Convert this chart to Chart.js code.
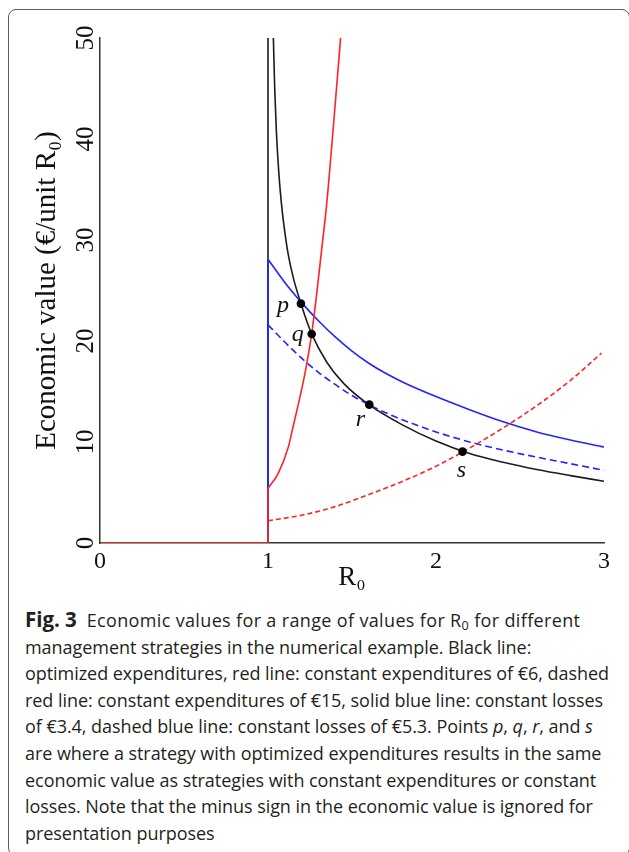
<!DOCTYPE html>
<html>
<head>
<meta charset="utf-8">
<script src="https://cdn.jsdelivr.net/npm/chart.js@4.4.1/dist/chart.umd.min.js"></script>
<style>
  html, body { margin:0; padding:0; background:#fff; }
  body { width:629px; height:852px; overflow:hidden; position:relative; }
  #frame { position:absolute; left:8px; top:9px; width:620px; height:845px; border:1.5px solid #5c5c5c; border-radius:8px; box-sizing:content-box; }
  #cv { position:absolute; left:0; top:0; }
  #cap { position:absolute; left:25px; top:606px; font-family:'Open Sans', 'Noto Sans', sans-serif; font-size:18px; line-height:26.6px; color:#231f20; white-space:nowrap; letter-spacing:-0.05px; }
  #cap b { font-weight:700; font-size:20.5px; margin-right:10px; }
  #cap .l1 { letter-spacing:0.35px; }
  #cap sub { font-size:0.7em; vertical-align:-0.25em; line-height:0; }
</style>
</head>
<body>
<div id="frame"></div>
<canvas id="cv" width="629" height="600"></canvas>
<div id="cap">
<b>Fig. 3</b><span class="l1">Economic values for a range of values for R<sub>0</sub> for different</span><br>
management strategies in the numerical example. Black line:<br>
optimized expenditures, red line: constant expenditures of €6, dashed<br>
red line: constant expenditures of €15, solid blue line: constant losses<br>
of €3.4, dashed blue line: constant losses of €5.3. Points <i>p</i>, <i>q</i>, <i>r</i>, and <i>s</i><br>
are where a strategy with optimized expenditures results in the same<br>
economic value as strategies with constant expenditures or constant<br>
losses. Note that the minus sign in the economic value is ignored for<br>
presentation purposes
</div>
<script>
// ---- tick labels ----
const xTickValues = [0, 1, 2, 3];
const yTickValues = [0, 10, 20, 30, 40, 50];

// ---- optimized expenditures (black) ----
const optVertR0 = [1, 1];
const optVertVal = [0, 50];
const optR0  = [1.032, 1.04, 1.05, 1.065, 1.08, 1.10, 1.12, 1.15, 1.20, 1.26, 1.35, 1.45, 1.60, 1.80, 2.0, 2.2, 2.4, 2.6, 2.8, 3.0];
const optVal = [50, 45.0, 40.7, 36.5, 33.6, 30.8, 28.6, 26.3, 23.5, 20.7, 17.9, 15.8, 13.7, 11.7, 10.1, 8.86, 7.99, 7.27, 6.67, 6.12];

// ---- constant expenditures of 6 (red solid) ----
const red6BaseR0  = [0, 1, 1];
const red6BaseVal = [0, 0, 5.4];
const red6R0  = [1, 1.061, 1.121, 1.145, 1.22, 1.26, 1.29, 1.319, 1.349, 1.389, 1.432];
const red6Val = [5.4, 6.9, 9.5, 11.2, 16.8, 20.7, 24.7, 29.0, 33.5, 41.2, 50];

// ---- constant expenditures of 15 (red dashed) ----
const red15R0  = [1, 1.2, 1.4, 1.6, 1.8, 2.0, 2.2, 2.4, 2.6, 2.8, 2.985];
const red15Val = [2.2, 2.75, 3.6, 4.8, 6.1, 7.6, 9.4, 11.4, 13.6, 16.1, 18.8];

// ---- constant losses of 3.4 (blue solid) ----
const blue34VertR0  = [1, 1];
const blue34VertVal = [0, 28.1];
const blue34R0  = [1, 1.1, 1.2, 1.3, 1.4, 1.5, 1.6, 1.7, 1.8, 2.0, 2.2, 2.4, 2.6, 2.8, 3.0];
const blue34Val = [28.1, 25.8, 23.8, 22.0, 20.4, 19.0, 17.8, 16.8, 15.95, 14.5, 13.2, 12.0, 11.0, 10.2, 9.5];

// ---- constant losses of 5.3 (blue dashed) ----
const blue53R0  = [1, 1.1, 1.2, 1.3, 1.4, 1.5, 1.6, 1.7, 1.8, 2.0, 2.2, 2.4, 2.6, 2.8, 3.0];
const blue53Val = [21.6, 19.9, 18.3, 16.9, 15.7, 14.6, 13.7, 12.9, 12.2, 11.0, 10.0, 9.2, 8.5, 7.85, 7.2];

// ---- intersection points ----
const ptR0    = [1.196, 1.26, 1.603, 2.158];
const ptVal   = [23.7, 20.7, 13.7, 9.05];
const ptNames = ['p', 'q', 'r', 's'];

const toXY = (xs, ys) => xs.map((x, i) => ({ x: x, y: ys[i] }));

const RED = '#ff2323', BLUE = '#2323ff', BLACK = '#1c1c1c';
const LW = 1.6;

function curve(data, color, dash, order, mono) {
  return {
    data: data, showLine: true, borderColor: color, backgroundColor: color,
    borderWidth: LW, borderDash: dash || [], pointRadius: 0, pointHoverRadius: 0,
    cubicInterpolationMode: mono ? 'monotone' : 'default', tension: 0, order: order
  };
}

const labelOffsets = [[-18, 8], [-14, 7], [-9, 21], [-1, 25]];

const pointLabels = {
  id: 'pointLabels',
  afterDatasetsDraw(chart) {
    const meta = chart.getDatasetMeta(chart.data.datasets.length - 1);
    const ctx = chart.ctx;
    ctx.save();
    ctx.font = 'italic 24px "Liberation Serif", "Times New Roman", serif';
    ctx.fillStyle = '#111';
    ctx.textAlign = 'center';
    ctx.textBaseline = 'alphabetic';
    meta.data.forEach((el, i) => {
      ctx.fillText(ptNames[i], el.x + labelOffsets[i][0], el.y + labelOffsets[i][1]);
    });
    ctx.restore();
  }
};

const serif = '"Liberation Serif", "Times New Roman", serif';

new Chart(document.getElementById('cv').getContext('2d'), {
  type: 'scatter',
  data: {
    datasets: [
      curve(toXY(optVertR0, optVertVal), BLACK, null, 9, false),
      curve(toXY(optR0, optVal), BLACK, null, 8, true),
      curve(toXY(blue53R0, blue53Val), BLUE, [7, 4], 7, true),
      curve(toXY(blue34VertR0, blue34VertVal), BLUE, null, 6, false),
      curve(toXY(blue34R0, blue34Val), BLUE, null, 5, true),
      curve(toXY(red15R0, red15Val), RED, [5, 3], 4, true),
      curve(toXY(red6BaseR0, red6BaseVal), RED, null, 3, false),
      curve(toXY(red6R0, red6Val), RED, null, 2, true),
      {
        data: toXY(ptR0, ptVal), showLine: false, pointRadius: 4.3, pointHoverRadius: 4.3,
        pointBackgroundColor: '#000', pointBorderColor: '#000', pointBorderWidth: 0, order: 0
      }
    ]
  },
  options: {
    responsive: false, animation: false, devicePixelRatio: 1,
    layout: { padding: { left: 0, right: 25, top: 38, bottom: 0 } },
    plugins: { legend: { display: false }, tooltip: { enabled: false } },
    scales: {
      x: {
        type: 'linear', min: 0, max: 3,
        afterBuildTicks: s => { s.ticks = xTickValues.map(v => ({ value: v })); },
        afterFit: s => { s.height = 57; },
        grid: { display: false, drawTicks: false },
        border: { display: true, color: '#333', width: 1.5 },
        ticks: { padding: 4, color: '#111', font: { family: serif, size: 24 } },
        title: { display: true, text: 'R₀', color: '#111', font: { family: serif, size: 27 }, padding: { top: 0, bottom: 6 } }
      },
      y: {
        type: 'linear', min: 0, max: 50,
        afterBuildTicks: s => { s.ticks = yTickValues.map(v => ({ value: v })); },
        afterFit: s => { s.width = 100; },
        grid: { display: false, drawTicks: false },
        border: { display: true, color: '#333', width: 1.5 },
        ticks: { minRotation: 90, maxRotation: 90, crossAlign: 'center', padding: 1.5, color: '#111', font: { family: serif, size: 25 } },
        title: { display: true, text: 'Economic value (€/unit R₀)', color: '#111', font: { family: serif, size: 29 }, padding: { top: 30, bottom: 0 } }
      }
    }
  },
  plugins: [pointLabels]
});
</script>
</body>
</html>
